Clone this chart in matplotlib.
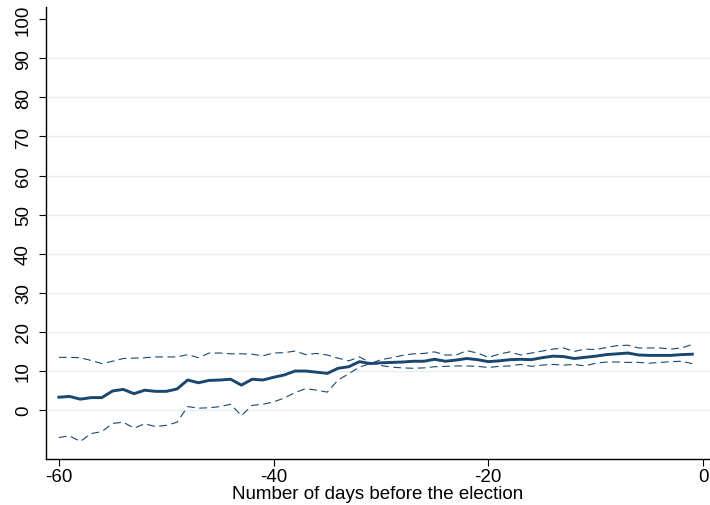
import matplotlib
matplotlib.use("Agg")
import matplotlib.pyplot as plt
import numpy as np

days = list(range(-60, 0))

estimate = [3.3, 3.5, 2.8, 3.2, 3.2, 4.9, 5.3, 4.2, 5.1, 4.8,
            4.8, 5.4, 7.7, 7.0, 7.6, 7.7, 7.9, 6.4, 7.9, 7.7,
            8.4, 9.0, 10.0, 10.0, 9.7, 9.4, 10.7, 11.1, 12.4, 11.9,
            12.1, 12.2, 12.3, 12.5, 12.5, 13.0, 12.5, 12.8, 13.2, 12.9,
            12.4, 12.6, 12.9, 13.0, 12.9, 13.4, 13.8, 13.7, 13.2, 13.5,
            13.8, 14.2, 14.4, 14.6, 14.1, 14.0, 14.0, 14.0, 14.2, 14.3]

bound_a = [13.5, 13.5, 13.4, 12.7, 11.9, 12.5, 13.2, 13.3, 13.4, 13.6,
           13.6, 13.6, 14.2, 13.4, 14.6, 14.6, 14.4, 14.4, 14.3, 13.9,
           14.6, 14.7, 15.1, 14.2, 14.5, 14.1, 13.3, 12.6, 13.6, 12.2,
           11.4, 11.0, 10.8, 10.7, 10.8, 11.1, 11.2, 11.3, 11.3, 11.2,
           10.9, 11.2, 11.3, 11.7, 11.2, 11.5, 11.7, 11.5, 11.7, 11.3,
           12.0, 12.3, 12.3, 12.2, 12.2, 12.0, 12.2, 12.4, 12.5, 11.9]

bound_b = [-7.0, -6.6, -8.0, -6.0, -5.5, -3.4, -3.1, -4.6, -3.5, -4.2,
           -3.9, -3.1, 0.9, 0.5, 0.6, 0.9, 1.5, -1.4, 1.2, 1.5,
           2.1, 3.1, 4.5, 5.5, 5.1, 4.6, 7.7, 9.3, 11.0, 11.9,
           12.9, 13.4, 14.0, 14.4, 14.5, 14.9, 14.1, 14.1, 15.2, 14.6,
           13.5, 14.3, 14.9, 14.1, 14.6, 15.1, 15.6, 15.9, 15.0, 15.6,
           15.5, 16.0, 16.5, 16.6, 15.9, 15.9, 15.9, 15.6, 15.9, 16.8]

xticks = [-60, -40, -20, 0]
yticks = list(range(0, 101, 10))
xlabel = "Number of days before the election"

navy = "#1a476f"
plt.rcParams['font.family'] = ['Liberation Sans', 'DejaVu Sans']

fig = plt.figure(figsize=(7.1, 5.06), dpi=100)
ax = fig.add_axes([46/710, 46/506, 664/710, 452/506])

for y in range(0, 100, 10):
    ax.axhline(y, color="#e6eff1", lw=1.0, zorder=0)

ax.plot(days, bound_a, color=navy, lw=0.8, ls=(0, (7, 4)), zorder=2)
ax.plot(days, bound_b, color=navy, lw=0.8, ls=(0, (7, 4)), zorder=2)
ax.plot(days, estimate, color=navy, lw=2.1, zorder=3, solid_joinstyle='round')

ax.set_xlim(-61.2, 0.65)
ax.set_ylim(-12.5, 103.1)
ax.set_xticks(xticks)
ax.set_xticklabels([str(t) for t in xticks])
ax.set_yticks(yticks)
ax.set_yticklabels([str(t) for t in yticks], rotation=90, va='center')
ax.tick_params(axis='both', labelsize=13.5, length=5, width=0.8, color='black')
ax.tick_params(axis='y', pad=5)
ax.tick_params(axis='x', pad=1.5)
ax.set_xlabel(xlabel, fontsize=13.5, labelpad=0)

for s in ['top', 'right']:
    ax.spines[s].set_visible(False)
for s in ['left', 'bottom']:
    ax.spines[s].set_linewidth(1.0)
    ax.spines[s].set_color('black')

fig.savefig("out.png", dpi=100, facecolor='white')
